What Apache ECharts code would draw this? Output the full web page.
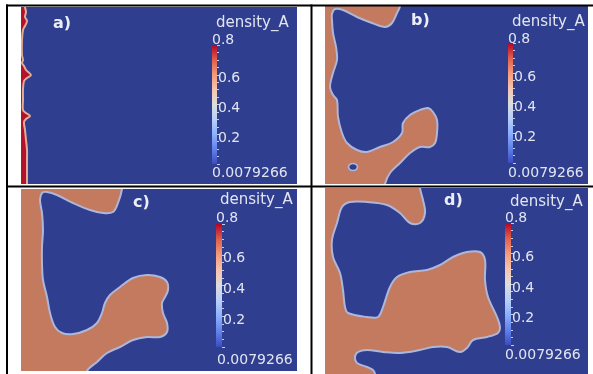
<!DOCTYPE html>
<html><head><meta charset="utf-8">
<script src="https://cdn.jsdelivr.net/npm/echarts@6/dist/echarts.min.js"></script>
<style>html,body{margin:0;padding:0;background:#fff}#c{width:593px;height:374px}</style>
</head><body><div id="c"></div><script>
// ---------- data ----------
const panelLabels = ['a)', 'b)', 'c)', 'd)'];
const colorbarTitle = 'density_A';
const rangeMin = 0.0079266;
const rangeMax = 0.8;
const tickValues = [0.2, 0.4, 0.6];
// domain extents of each panel (x, y)
const extentA = [276, 177];
const extentB = [263, 178];
const extentC = [276, 182];
const extentD = [263, 186];
// panel a: dense (red) phase along the left wall
const redA = [[-10,-10],[4,-10],[4,0],[5,5],[4,10],[6,14],[4,19],[2,23],[1,33],[1,48],[2,53],[1,56],[3,59],[5,63],[10,68],[6,71],[3,74],[2,83],[2,93],[2,103],[5,106],[9,109],[5,112],[3,115],[4,123],[5,133],[6,143],[6,153],[6,163],[6,177],[6,187],[-10,187]];
// panel b: A-rich (orange) domain
const orangeB = [[-10,-10],[75,-10],[75,0],[72,7],[67,17],[60,21],[47,17],[32,11],[18,4],[10,3],[7,8],[7,14],[8,27],[11,41],[12,54],[8,67],[5,81],[8,89],[12,94],[13,111],[17,127],[22,137],[32,144],[42,146],[55,141],[68,136],[77,127],[78,117],[85,109],[95,104],[103,102],[108,106],[112,114],[112,127],[110,137],[105,141],[95,141],[85,147],[75,157],[65,167],[60,178],[60,188],[-10,188]];
const holeB = [[28,161]];
// panel c
const orangeC = [[-10,-10],[101,-10],[101,0],[97,14],[92,23],[82,24],[69,21],[52,14],[36,6],[26,3],[21,4],[19,11],[21,24],[22,41],[21,58],[21,74],[22,91],[26,108],[29,124],[34,138],[41,144],[52,145],[66,141],[76,134],[81,124],[84,114],[89,106],[99,98],[112,89],[126,86],[139,88],[146,93],[147,101],[144,108],[141,114],[142,124],[146,134],[146,143],[139,148],[126,148],[112,151],[99,158],[86,164],[76,173],[66,182],[66,192],[-10,192]];
// panel d
const orangeD = [[-10,-10],[95,-10],[95,0],[98,12],[100,25],[95,35],[85,35],[75,25],[62,17],[42,14],[25,14],[17,19],[12,35],[7,52],[8,69],[15,85],[18,102],[20,119],[23,125],[42,129],[53,129],[58,119],[65,99],[72,89],[85,84],[102,82],[115,77],[128,69],[142,64],[155,64],[160,72],[160,92],[163,109],[172,129],[175,139],[173,145],[162,149],[148,152],[142,160],[135,164],[122,159],[108,159],[95,162],[75,165],[58,164],[42,162],[33,164],[30,169],[32,175],[42,179],[48,182],[50,186],[50,196],[-10,196]];

// ---------- layout / style ----------
const BLUE = '#2f3e8f', ORANGE = '#c37a5e', RED = '#b2132b', FRINGE = '#aeb6db', TXT = '#e2e5f1';
const layout = [
  {l:21, t:7,   w:276, h:177, cb:{l:212,t:45,w:5,h:119},  title:[216,23],  max:[212,40],  min:[212,173], lab:[53,24]},
  {l:325,t:6,   w:263, h:178, cb:{l:508,t:43,w:5,h:120},  title:[512,22],  max:[508,39],  min:[508,173], lab:[411,21]},
  {l:21, t:189, w:276, h:182, cb:{l:216,t:224,w:6,h:123}, title:[220,200], max:[216,218], min:[217,360], lab:[133,203]},
  {l:325,t:188, w:263, h:186, cb:{l:505,t:223,w:6,h:122}, title:[510,202], max:[505,218], min:[505,355], lab:[444,201]}
];
const extents = [extentA, extentB, extentC, extentD];
const shapes = [[redA, RED, '#e3ab96'], [orangeB, ORANGE, FRINGE], [orangeC, ORANGE, FRINGE], [orangeD, ORANGE, FRINGE]];

const coolwarm = [
  {offset:0, color:'#b40426'},{offset:0.125,color:'#de604d'},{offset:0.25,color:'#f49a7b'},
  {offset:0.375,color:'#f5c4ad'},{offset:0.5,color:'#dddddd'},{offset:0.625,color:'#b8d0f9'},
  {offset:0.75,color:'#8db0fe'},{offset:0.875,color:'#6282ea'},{offset:1,color:'#3b4cc0'}
];

const grid = [], xAxis = [], yAxis = [], series = [], graphic = [];
layout.forEach((L, i) => {
  const ext = extents[i];
  grid.push({left:L.l, top:L.t, width:L.w, height:L.h, show:true, backgroundColor:BLUE, borderWidth:0});
  xAxis.push({type:'value', gridIndex:2*i, min:0, max:ext[0], show:false});
  yAxis.push({type:'value', gridIndex:2*i, min:0, max:ext[1], inverse:true, show:false});
  grid.push({left:L.cb.l, top:L.cb.t, width:L.cb.w, height:L.cb.h, show:false});
  xAxis.push({type:'category', gridIndex:2*i+1, data:[''], show:false});
  yAxis.push({type:'value', gridIndex:2*i+1, min:0, max:rangeMax, interval:0.2, position:'right',
    axisLine:{show:false}, splitLine:{show:false},
    axisTick:{show:true, length:3, lineStyle:{color:'#c9cde2', width:1}},
    minorTick:{show:true, splitNumber:4, length:2, lineStyle:{color:'#c9cde2', width:1}},
    axisLabel:{show:true, showMinLabel:false, showMaxLabel:false, margin:1, color:TXT,
      fontFamily:'DejaVu Sans', fontSize:14, verticalAlign:'top', lineHeight:8,
      formatter: v => tickValues.some(t => Math.abs(t - v) < 1e-9) ? String(+v.toFixed(1)) : ''}
  });
  const [pts, fill, stroke] = shapes[i];
  series.push({type:'custom', xAxisIndex:2*i, yAxisIndex:2*i, clip:true, silent:true, animation:false,
    data:[[0]],
    renderItem: (params, api) => ({type:'polygon', shape:{points: pts.map(p => api.coord(p)), smooth:0.35},
      style:{fill:fill, stroke:stroke, lineWidth:2}})
  });
  series.push({type:'bar', xAxisIndex:2*i+1, yAxisIndex:2*i+1, data:[rangeMax], barWidth:'100%', silent:true, animation:false,
    itemStyle:{color:{type:'linear', x:0, y:0, x2:0, y2:1, colorStops:coolwarm}}});
  const font = '14px "DejaVu Sans"';
  graphic.push({type:'text', x:L.title[0], y:L.title[1], z:100, style:{text:colorbarTitle, fill:TXT, font:'15px "DejaVu Sans"', verticalAlign:'middle'}});
  graphic.push({type:'text', x:L.max[0], y:L.max[1], z:100, style:{text:String(rangeMax), fill:TXT, font:font, verticalAlign:'middle'}});
  graphic.push({type:'text', x:L.min[0], y:L.min[1], z:100, style:{text:String(rangeMin), fill:TXT, font:font, verticalAlign:'middle'}});
  graphic.push({type:'text', x:L.lab[0], y:L.lab[1], z:100, style:{text:panelLabels[i], fill:'#eceef6', font:'bold 16px "DejaVu Sans"', verticalAlign:'middle'}});
});
series.push({type:'scatter', xAxisIndex:2, yAxisIndex:2, data:holeB, symbol:'circle', symbolSize:[9,7], silent:true, animation:false,
  itemStyle:{color:BLUE, borderColor:FRINGE, borderWidth:1.5, opacity:1}});
// table borders
[[6,4.5,587,2],[6,185.5,587,2],[6,4.5,2,370],[310.5,4.5,2,370]].forEach(r =>
  graphic.push({type:'rect', z:100, shape:{x:r[0], y:r[1], width:r[2], height:r[3]}, style:{fill:'#000'}}));

const chart = echarts.init(document.getElementById('c'), null, {renderer:'canvas'});
chart.setOption({animation:false, backgroundColor:'#fff', grid, xAxis, yAxis, series, graphic});
</script></body></html>
